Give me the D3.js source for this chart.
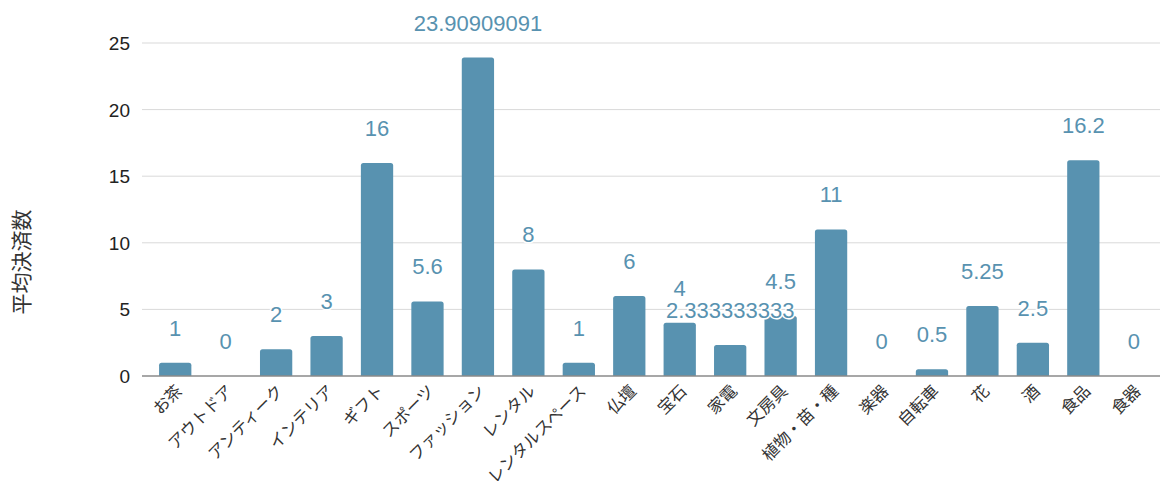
<!DOCTYPE html>
<html>
<head>
<meta charset="utf-8">
<script src="https://cdn.jsdelivr.net/npm/d3@7"></script>
<style>
body { margin: 0; background: #fff; }
svg { display: block; }
</style>
</head>
<body>
<svg></svg>
<script>
var categories = ["お茶", "アウトドア", "アンティーク", "インテリア", "ギフト", "スポーツ", "ファッション", "レンタル", "レンタルスペース", "仏壇", "宝石", "家電", "文房具", "植物・苗・種", "楽器", "自転車", "花", "酒", "食品", "食器"];
var values = [1, 0, 2, 3, 16, 5.6, 23.90909091, 8, 1, 6, 4, 2.333333333, 4.5, 11, 0, 0.5, 5.25, 2.5, 16.2, 0];
var labels = ["1", "0", "2", "3", "16", "5.6", "23.90909091", "8", "1", "6", "4", "2.333333333", "4.5", "11", "0", "0.5", "5.25", "2.5", "16.2", "0"];
var yTicks = [0, 5, 10, 15, 20, 25];

var svgWidth = 1161, svgHeight = 484;
var barColor = "#5892b0";

var svg = d3.select("svg")
  .attr("width", svgWidth)
  .attr("height", svgHeight);

var x = d3.scaleBand()
  .domain(categories)
  .range([150, 1159])
  .paddingInner(0.36)
  .paddingOuter(0.18);

var y = d3.scaleLinear()
  .domain([0, 25])
  .range([376, 43]);

// grid
svg.append("g")
  .selectAll("line")
  .data(yTicks.filter(function (d) { return d > 0; }))
  .enter()
  .append("line")
  .attr("x1", 142)
  .attr("x2", 1160)
  .attr("y1", function (d) { return y(d); })
  .attr("y2", function (d) { return y(d); })
  .attr("stroke", "#d9d9d9")
  .attr("stroke-width", 1);

// y tick labels
svg.append("g")
  .selectAll("text")
  .data(yTicks)
  .enter()
  .append("text")
  .text(function (d) { return d; })
  .attr("x", 130)
  .attr("y", function (d) { return y(d) + 7; })
  .attr("text-anchor", "end")
  .attr("font-family", "Liberation Sans, Arial, sans-serif")
  .attr("font-size", "19px")
  .attr("fill", "#222");

// bars with rounded tops
svg.append("g")
  .selectAll("path")
  .data(values)
  .enter()
  .append("path")
  .attr("d", function (d, i) {
    var x0 = x(categories[i]), w = x.bandwidth();
    var top = y(d), bottom = y(0);
    var r = Math.min(2.5, (bottom - top) / 2);
    if (bottom - top <= 0) return "";
    return "M" + x0 + "," + bottom +
      "V" + (top + r) +
      "Q" + x0 + "," + top + " " + (x0 + r) + "," + top +
      "H" + (x0 + w - r) +
      "Q" + (x0 + w) + "," + top + " " + (x0 + w) + "," + (top + r) +
      "V" + bottom + "Z";
  })
  .attr("fill", barColor);

// zero line
svg.append("line")
  .attr("x1", 142)
  .attr("x2", 1160)
  .attr("y1", y(0))
  .attr("y2", y(0))
  .attr("stroke", "#8a8a8a")
  .attr("stroke-width", 1.5);

// value labels
svg.append("g")
  .selectAll("text")
  .data(values)
  .enter()
  .append("text")
  .text(function (d, i) { return labels[i]; })
  .attr("x", function (d, i) { return x(categories[i]) + x.bandwidth() / 2; })
  .attr("y", function (d) { return y(d) - 27; })
  .attr("text-anchor", "middle")
  .attr("font-family", "Liberation Sans, Arial, sans-serif")
  .attr("font-size", "22px")
  .attr("fill", barColor)
  .attr("stroke", "#fff")
  .attr("stroke-width", 3)
  .attr("paint-order", "stroke");

// x labels
svg.append("g")
  .selectAll("text")
  .data(categories)
  .enter()
  .append("text")
  .text(function (d) { return d; })
  .attr("text-anchor", "end")
  .attr("transform", function (d) {
    var cx = x(d) + x.bandwidth() / 2 + 8;
    return "translate(" + cx + ",392) rotate(-45)";
  })
  .attr("font-family", "Noto Sans CJK JP, sans-serif")
  .attr("font-size", "16.5px")
  .attr("fill", "#333");

// y axis title
svg.append("text")
  .text("平均決済数")
  .attr("transform", "translate(29,262) rotate(-90)")
  .attr("text-anchor", "middle")
  .attr("font-family", "Noto Sans CJK JP, sans-serif")
  .attr("font-size", "21px")
  .attr("fill", "#333");
</script>
</body>
</html>
